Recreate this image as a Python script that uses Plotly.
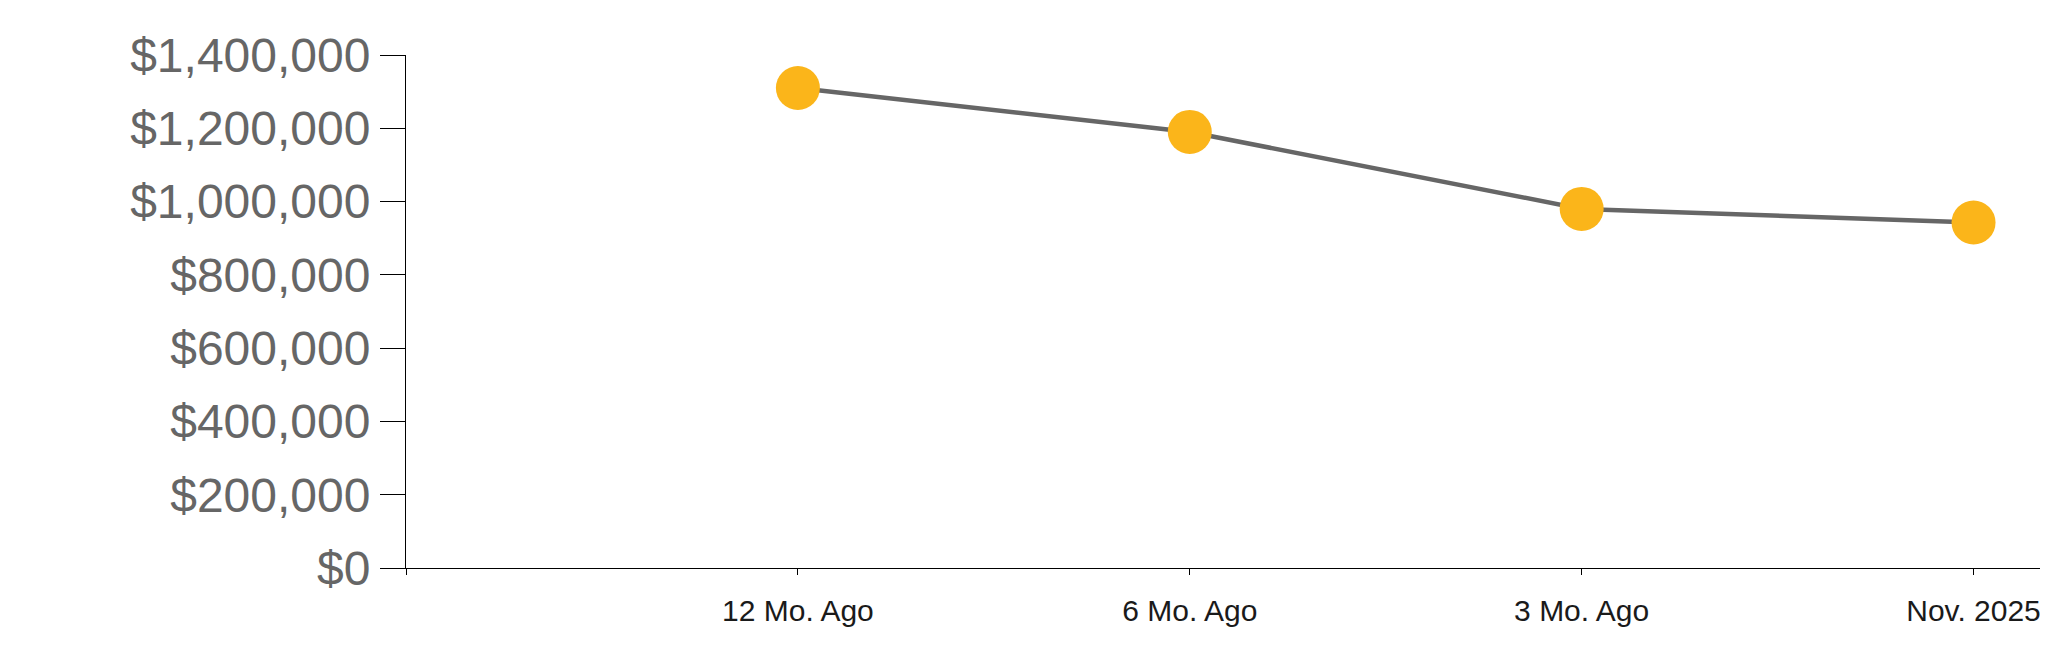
import plotly.graph_objects as go

# chart data
period_labels = ["12 Mo. Ago", "6 Mo. Ago", "3 Mo. Ago", "Nov. 2025"]
median_price = [1310000, 1190000, 980000, 943000]
y_ticks = [0, 200000, 400000, 600000, 800000, 1000000, 1200000, 1400000]

x_pos = list(range(len(period_labels)))

fig = go.Figure()

fig.add_trace(go.Scatter(
    x=x_pos,
    y=median_price,
    mode="lines+markers",
    line=dict(color="#666666", width=4.5),
    marker=dict(size=44, color="#FBB51A", line=dict(width=0)),
    hoverinfo="skip",
    cliponaxis=False,
))

# page body adds an 8px margin all round; size the figure so it fits exactly
fig.update_layout(
    width=2040,
    height=647,
    margin=dict(l=398, r=0, t=47, b=87),
    paper_bgcolor="white",
    plot_bgcolor="white",
    showlegend=False,
    font=dict(family="Liberation Sans, Arial, sans-serif"),
)

# leading empty slot at -1 gives the left edge of the D3-style domain
fig.update_xaxes(
    range=[-1, 3.19],
    tickvals=[-1] + x_pos,
    ticktext=[""] + period_labels,
    ticks="outside",
    ticklen=6,
    tickwidth=1,
    tickcolor="black",
    showline=True,
    linecolor="black",
    linewidth=1,
    showgrid=False,
    zeroline=False,
    automargin=False,
    tickfont=dict(size=30, color="#1a1a1a"),
    ticklabelstandoff=10,
)

fig.update_yaxes(
    range=[0, 1400000],
    tickvals=y_ticks,
    tickformat="$,.0f",
    ticks="outside",
    ticklen=25,
    tickwidth=1,
    tickcolor="black",
    showline=True,
    linecolor="black",
    linewidth=1,
    showgrid=False,
    zeroline=False,
    automargin=False,
    tickfont=dict(size=48, color="#666666"),
    ticklabelstandoff=0,
)

fig.write_html("out.html")
